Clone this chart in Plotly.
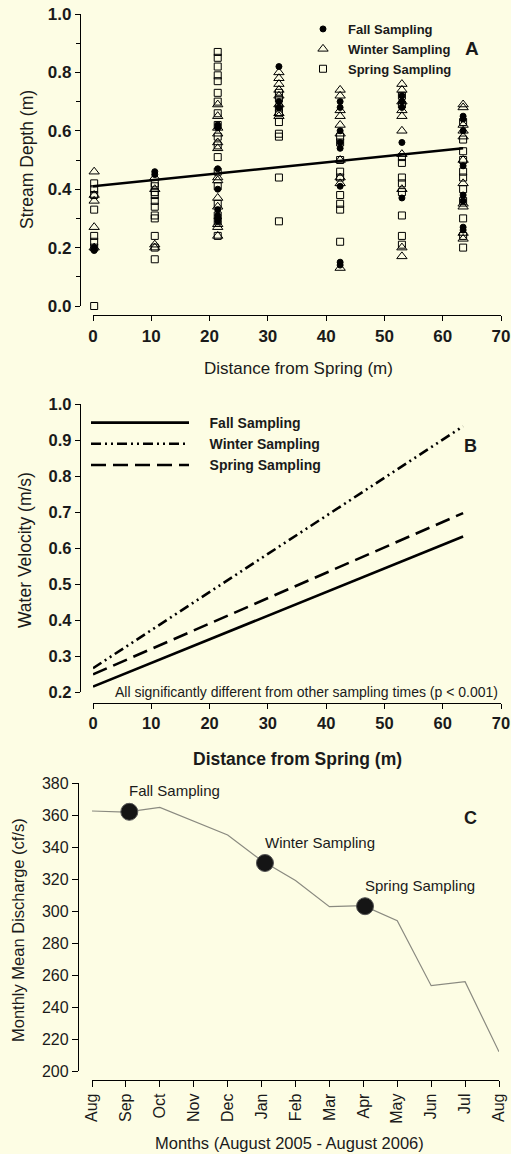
import plotly.graph_objects as go

W, H = 511, 1154
FONT = "Liberation Sans, Arial, sans-serif"
BG = "#fdfde4"

# ---------------- Panel A data ----------------
column_distance = [0.2, 10.6, 21.4, 31.9, 42.4, 53.0, 63.5]
fall_depth = [
    [0.19, 0.20],
    [0.46, 0.45],
    [0.62, 0.61, 0.47, 0.40, 0.33, 0.31, 0.30, 0.29],
    [0.82, 0.70, 0.68],
    [0.70, 0.68, 0.60, 0.56, 0.54, 0.41, 0.15, 0.14],
    [0.72, 0.70, 0.68, 0.56, 0.37],
    [0.65, 0.64, 0.60, 0.48, 0.38, 0.36, 0.27, 0.26],
]
winter_depth = [
    [0.46, 0.38, 0.36, 0.27, 0.20],
    [0.44, 0.40, 0.21, 0.20],
    [0.69, 0.65, 0.61, 0.59, 0.56, 0.54, 0.44, 0.43, 0.37, 0.34, 0.28, 0.27, 0.24],
    [0.80, 0.78, 0.76, 0.74, 0.72, 0.69, 0.66, 0.65],
    [0.74, 0.72, 0.67, 0.65, 0.62, 0.59, 0.50, 0.44, 0.42, 0.13],
    [0.76, 0.74, 0.70, 0.67, 0.65, 0.60, 0.52, 0.40, 0.20, 0.17],
    [0.69, 0.68, 0.62, 0.60, 0.58, 0.50, 0.42, 0.35, 0.34, 0.25, 0.23],
]
spring_depth = [
    [0.42, 0.40, 0.38, 0.33, 0.24, 0.22, 0.20, 0.00],
    [0.42, 0.41, 0.39, 0.38, 0.36, 0.34, 0.31, 0.30, 0.24, 0.20, 0.16],
    [0.87, 0.85, 0.82, 0.79, 0.77, 0.73, 0.70, 0.66, 0.62, 0.58, 0.55, 0.51, 0.46, 0.41, 0.35, 0.31, 0.29, 0.24],
    [0.73, 0.71, 0.68, 0.66, 0.63, 0.59, 0.58, 0.44, 0.29],
    [0.58, 0.56, 0.50, 0.46, 0.44, 0.38, 0.35, 0.33, 0.22],
    [0.72, 0.69, 0.51, 0.49, 0.44, 0.42, 0.39, 0.31, 0.24, 0.21],
    [0.63, 0.57, 0.53, 0.50, 0.46, 0.44, 0.40, 0.36, 0.30, 0.24, 0.20],
]
depth_fit_x = [0.0, 63.5]
depth_fit_y = [0.41, 0.54]

# ---------------- Panel B data ----------------
velocity_x = [0.0, 63.5]
fall_velocity = [0.215, 0.632]
winter_velocity = [0.266, 0.938]
spring_velocity = [0.249, 0.697]

# ---------------- Panel C data ----------------
month_labels = ["Aug", "Sep", "Oct", "Nov", "Dec", "Jan", "Feb", "Mar",
                "Apr", "May", "Jun", "Jul", "Aug"]
month_index = list(range(13))
discharge = [362.5, 361.8, 364.8, 356.0, 347.5, 331.5, 319.0, 302.7,
             303.3, 294.0, 253.3, 255.8, 212.0]
sampling_month = [1.1, 5.1, 8.05]
sampling_discharge = [362.0, 330.0, 303.0]
sampling_labels = ["Fall Sampling", "Winter Sampling", "Spring Sampling"]


def px(x):
    return x / W


def py(y):
    return 1 - y / H


def expand(cols, vals):
    xs, ys = [], []
    for cx, vs in zip(cols, vals):
        for v in vs:
            xs.append(cx)
            ys.append(v)
    return xs, ys


fig = go.Figure()

# Panel A scatter
for name, vals, sym, size in [
    ("Fall Sampling", fall_depth, "circle", 6),
    ("Winter Sampling", winter_depth, "triangle-up-open", 9),
    ("Spring Sampling", spring_depth, "square-open", 7),
]:
    xs, ys = expand(column_distance, vals)
    fig.add_trace(go.Scatter(
        x=xs, y=ys, mode="markers", name=name, xaxis="x", yaxis="y",
        marker=dict(symbol=sym, size=size, color="black",
                    line=dict(color="black", width=1)),
        cliponaxis=False, legend="legend",
    ))
fig.add_trace(go.Scatter(x=depth_fit_x, y=depth_fit_y, mode="lines",
                         line=dict(color="black", width=2.6),
                         showlegend=False, xaxis="x", yaxis="y"))

# Panel B lines
LEGB = "\u00a0\u00a0\u00a0\u00a0"
for name, vals, dash in [
    ("Fall Sampling", fall_velocity, "solid"),
    ("Winter Sampling", winter_velocity, "10px,4px,2px,4px,2px,4px"),
    ("Spring Sampling", spring_velocity, "15px,7px"),
]:
    fig.add_trace(go.Scatter(
        x=velocity_x, y=vals, mode="lines", name=LEGB + name,
        xaxis="x2", yaxis="y2",
        line=dict(color="black", width=2.6, dash=dash),
        legend="legend2", cliponaxis=False,
    ))

# Panel C
fig.add_trace(go.Scatter(x=month_index, y=discharge, mode="lines",
                         line=dict(color="#8a8a80", width=1.2),
                         showlegend=False, xaxis="x3", yaxis="y3"))
fig.add_trace(go.Scatter(x=sampling_month, y=sampling_discharge, mode="markers",
                         marker=dict(size=17, color="#151515",
                                     line=dict(color="#555", width=1)),
                         showlegend=False, xaxis="x3", yaxis="y3",
                         cliponaxis=False))

axis_common = dict(showline=True, linecolor="black", linewidth=1.3,
                   ticks="outside", ticklen=5, tickwidth=1.3, tickcolor="black",
                   showgrid=False, zeroline=False, fixedrange=True,
                   automargin=False)

boldtick_A = dict(family=FONT, size=17, color="#1a1a1a", weight="bold")
boldtick_B = dict(family=FONT, size=16.5, color="#1a1a1a", weight="bold")
regtick = dict(family=FONT, size=16, color="#1a1a1a")

fig.update_layout(
    width=W, height=H, autosize=False,
    margin=dict(l=0, r=0, t=0, b=0, pad=0),
    paper_bgcolor=BG, plot_bgcolor=BG,
    font=dict(family=FONT, color="#1a1a1a"),
    xaxis=dict(axis_common, domain=[px(93), px(501)], range=[0, 70], dtick=10,
               anchor="free", position=py(315), tickfont=boldtick_A),
    yaxis=dict(axis_common, domain=[py(306), py(14)], range=[0, 1], dtick=0.2,
               tickformat=".1f", anchor="free", position=px(80),
               tickfont=boldtick_A,
               minor=dict(dtick=0.1, ticks="outside", ticklen=4,
                          tickwidth=1.1, tickcolor="black")),
    xaxis2=dict(axis_common, domain=[px(93), px(501)], range=[0, 70], dtick=10,
                anchor="free", position=py(703), tickfont=boldtick_B),
    yaxis2=dict(axis_common, domain=[py(692), py(404)], range=[0.2, 1.0],
                dtick=0.1, tickformat=".1f", anchor="free", position=px(80),
                tickfont=boldtick_B),
    xaxis3=dict(axis_common, domain=[px(92), px(499)], range=[0, 12],
                tickvals=month_index, ticktext=month_labels, tickangle=-90,
                anchor="free", position=py(1080), tickfont=regtick, ticklen=6),
    yaxis3=dict(axis_common, domain=[py(1071), py(783)], range=[200, 380],
                dtick=20, anchor="free", position=px(78), tickfont=regtick,
                ticklen=6),
    legend=dict(x=px(298), y=py(14), xanchor="left", yanchor="top",
                bgcolor="rgba(0,0,0,0)", itemwidth=40,
                font=dict(family=FONT, size=13, color="#1a1a1a", weight="bold"),
                tracegroupgap=0),
    legend2=dict(x=px(86), y=py(407), xanchor="left", yanchor="top",
                 bgcolor="rgba(0,0,0,0)", itemwidth=98,
                 font=dict(family=FONT, size=14, color="#1a1a1a", weight="bold"),
                 tracegroupgap=0),
)

annotations = [
    # axis titles
    dict(text="Distance from Spring (m)", x=px(298), y=py(369),
         font=dict(size=17)),
    dict(text="Stream Depth (m)", x=px(27), y=py(160), textangle=-90,
         font=dict(size=17.5)),
    dict(text="<b>Distance from Spring (m)</b>", x=px(297), y=py(759),
         font=dict(size=17.5)),
    dict(text="Water Velocity (m/s)", x=px(25), y=py(550), textangle=-90,
         font=dict(size=17.5)),
    dict(text="Months (August 2005 - August 2006)", x=px(289), y=py(1143),
         font=dict(size=16.5)),
    dict(text="Monthly Mean Discharge (cf/s)", x=px(18), y=py(930),
         textangle=-90, font=dict(size=16.5)),
    # panel letters
    dict(text="<b>A</b>", x=px(472), y=py(49), font=dict(size=19)),
    dict(text="<b>B</b>", x=px(470), y=py(446), font=dict(size=18)),
    dict(text="<b>C</b>", x=px(470), y=py(818), font=dict(size=18)),
    # note in B
    dict(text="All significantly different from other sampling times (p < 0.001)",
         x=px(500), y=py(692), xanchor="right", font=dict(size=14)),
]
for a in annotations:
    a.setdefault("xref", "paper")
    a.setdefault("yref", "paper")
    a.setdefault("showarrow", False)
    a.setdefault("xanchor", "center")
    a.setdefault("yanchor", "middle")
    a["font"] = dict(family=FONT, color="#1a1a1a", **a["font"])
    fig.add_annotation(**a)

# sampling labels in C, placed relative to the sampling points
for mx, q, lab in zip(sampling_month, sampling_discharge, sampling_labels):
    fig.add_annotation(text=lab, x=mx, y=q, xref="x3", yref="y3",
                       xanchor="left", yanchor="middle", xshift=-2, yshift=21,
                       showarrow=False,
                       font=dict(family=FONT, size=15, color="#1a1a1a"))

fig.write_html("out.html",
               config={"responsive": False, "displayModeBar": False},
               post_script="document.body.style.margin='0';")
